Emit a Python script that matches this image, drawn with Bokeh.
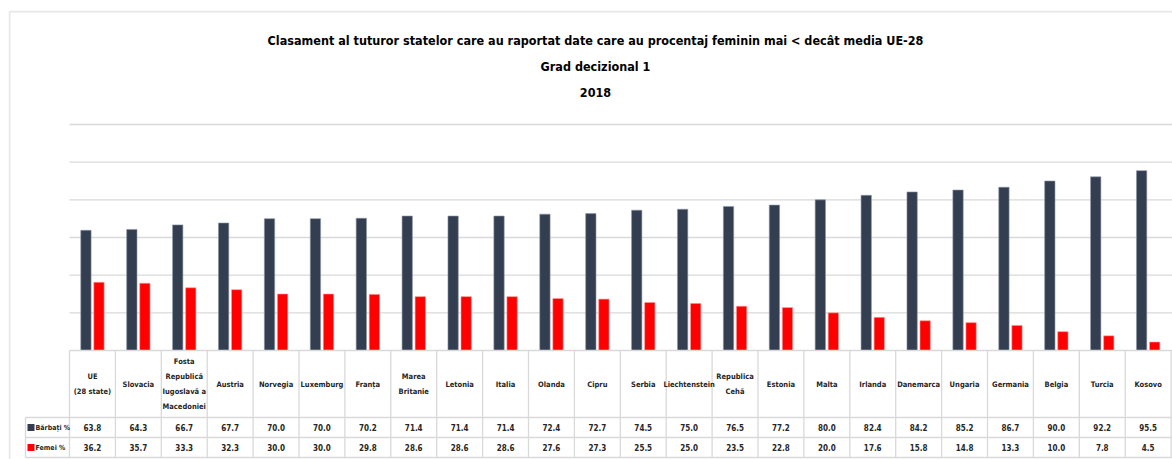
from bokeh.plotting import figure
from bokeh.models import Range1d, ColumnDataSource
from bokeh.core.properties import value
from bokeh.transform import dodge
from bokeh.embed import file_html
from bokeh.resources import INLINE

categories = ["UE\n(28 state)", "Slovacia", "Fosta\nRepublică\nIugoslavă a\nMacedoniei", "Austria",
              "Norvegia", "Luxemburg", "Franța", "Marea\nBritanie", "Letonia", "Italia", "Olanda",
              "Cipru", "Serbia", "Liechtenstein", "Republica\nCehă", "Estonia", "Malta", "Irlanda",
              "Danemarca", "Ungaria", "Germania", "Belgia", "Turcia", "Kosovo"]
barbati = [63.8, 64.3, 66.7, 67.7, 70.0, 70.0, 70.2, 71.4, 71.4, 71.4, 72.4, 72.7, 74.5, 75.0,
           76.5, 77.2, 80.0, 82.4, 84.2, 85.2, 86.7, 90.0, 92.2, 95.5]
femei = [36.2, 35.7, 33.3, 32.3, 30.0, 30.0, 29.8, 28.6, 28.6, 28.6, 27.6, 27.3, 25.5, 25.0,
         23.5, 22.8, 20.0, 17.6, 15.8, 14.8, 13.3, 10.0, 7.8, 4.5]
series_names = ["Bărbați %", "Femei %"]
y_ticks = [0, 20, 40, 60, 80, 100, 120]
titles = ["Clasament al tuturor statelor care au raportat date care au procentaj feminin mai < decât media UE-28",
          "Grad decizional 1", "2018"]

DARK = "#333F50"
RED = "#FF0000"
GRID = "#D9D9D9"
BORDER = "#E8E8E8"
FONT = "DejaVu Sans Condensed"

W, H = 1172, 459
LEFT_BORDER, TOP_BORDER = 8, 10
PX_PER_UNIT = 226 / 120.0
BASE_Y = 350          # baseline, pixel row
PLOT_LEFT = 69        # left of first column, pixel
COL_W = 45.9

n = len(categories)

def dx(xpix):   # pixel column -> data x
    return (xpix - PLOT_LEFT) / COL_W - 0.5

def dy(ypix):   # pixel row -> data y
    return (BASE_Y - ypix) / PX_PER_UNIT

x_start, x_end = dx(LEFT_BORDER), dx(W)
y_start, y_end = dy(H), dy(TOP_BORDER)

p = figure(width=W, height=H, output_backend="svg", toolbar_location=None,
           x_range=Range1d(x_start, x_end), y_range=Range1d(y_start, y_end),
           min_border_left=LEFT_BORDER, min_border_right=0, min_border_top=TOP_BORDER, min_border_bottom=0)
p.axis.visible = False
p.grid.visible = False
p.outline_line_color = None
p.background_fill_color = "white"
p.border_fill_color = "white"

# chart-area border (left and top only; the rest is cropped in the original)
p.segment(x0=[dx(9), dx(9)], x1=[dx(9), x_end], y0=[y_start, dy(11)], y1=[dy(11), dy(11)],
          line_color=BORDER, line_width=2)

gy = [t for t in y_ticks if t > 0]
p.segment(x0=[-0.5] * len(gy), x1=[x_end] * len(gy), y0=gy, y1=gy, line_color=GRID, line_width=1.3)

xs = list(range(n))
src = ColumnDataSource(dict(x=xs, b=barbati, f=femei, cat=categories,
                            bl=[f"{v:.1f}" for v in barbati], fl=[f"{v:.1f}" for v in femei]))
p.vbar(x=dodge("x", -0.142), top="b", width=0.225, source=src, fill_color=DARK, line_color="#8C96A8", line_width=0.6)
p.vbar(x=dodge("x", 0.142), top="f", width=0.225, source=src, fill_color=RED, line_color="#FF9C9C", line_width=0.6)

row0, row1, row2, row3 = dy(350), dy(417), dy(437), dy(457)
label_left = dx(25)
p.segment(x0=[-0.5, label_left, label_left, label_left], x1=[x_end] * 4,
          y0=[row0, row1, row2, row3], y1=[row0, row1, row2, row3], line_color=GRID, line_width=1.3)
vx = [i - 0.5 for i in range(n + 1)]
p.segment(x0=vx, x1=vx, y0=[row0] * len(vx), y1=[row3] * len(vx), line_color=GRID, line_width=1.3)
p.segment(x0=[label_left], x1=[label_left], y0=[row1], y1=[row3], line_color=GRID, line_width=1.3)

p.text(x="x", y=(row0 + row1) / 2, text="cat", source=src, text_align="center", text_baseline="middle",
       text_font=value(FONT), text_font_style="bold", text_font_size="7.5px", text_color="#262626",
       text_line_height=1.65)
p.text(x="x", y=(row1 + row2) / 2, text="bl", source=src, text_align="center", text_baseline="middle",
       text_font=value(FONT), text_font_style="bold", text_font_size="8px", text_color="#262626")
p.text(x="x", y=(row2 + row3) / 2, text="fl", source=src, text_align="center", text_baseline="middle",
       text_font=value(FONT), text_font_style="bold", text_font_size="8px", text_color="#262626")

key_x = dx(30.5)
p.scatter(x=[key_x, key_x], y=[(row1 + row2) / 2, (row2 + row3) / 2], marker="square", size=7,
          fill_color=[DARK, RED], line_color=None)
p.text(x=[dx(35)] * 2, y=[(row1 + row2) / 2, (row2 + row3) / 2], text=series_names,
       text_align="left", text_baseline="middle", text_font=value(FONT), text_font_style="bold",
       text_font_size="7px", text_color="#262626")

p.text(x=[dx(595)] * 3, y=[dy(40), dy(66), dy(92)], text=titles, text_align="center",
       text_baseline="middle", text_font=value(FONT), text_font_style="bold",
       text_font_size="12.5px", text_color="#000000")

open("out.html", "w").write(file_html(p, INLINE))
